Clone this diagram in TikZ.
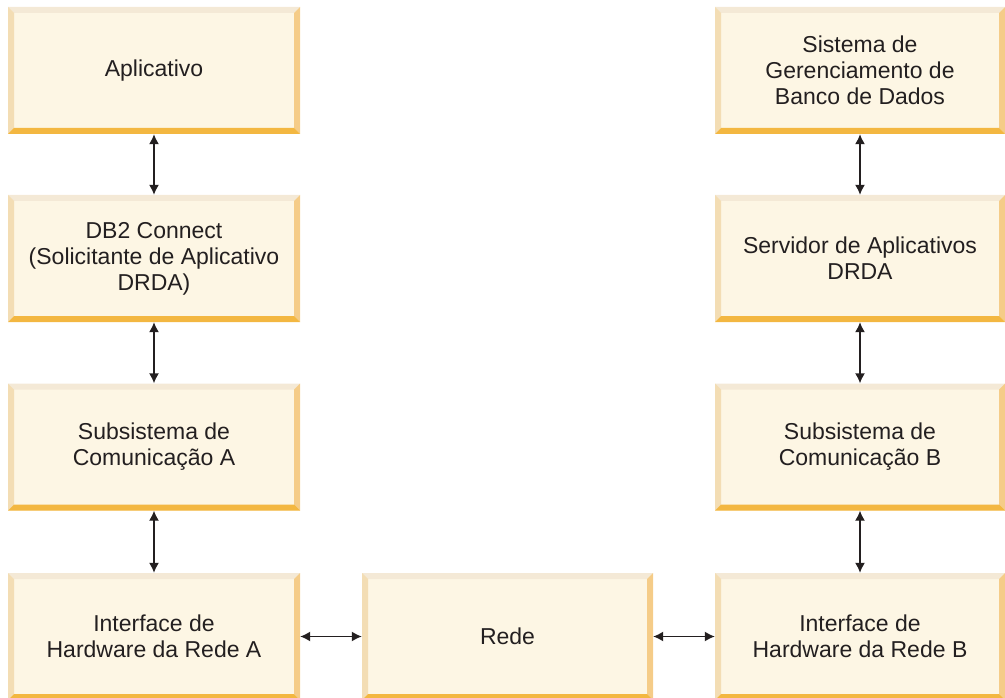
\documentclass[tikz,border=0pt]{standalone}
\usepackage{fontspec}
\setmainfont{Liberation Sans}
\usepackage{tikz}
\usetikzlibrary{arrows.meta}

\definecolor{caixa}{HTML}{FDF6E4}
\definecolor{topo}{HTML}{F4E9D6}
\definecolor{esq}{HTML}{F3DDB4}
\definecolor{dir}{HTML}{F5CC88}
\definecolor{base}{HTML}{F3B741}
\definecolor{texto}{HTML}{231F20}

\tikzset{
    camada/.style={rectangle, inner sep=0pt, minimum width=292pt, minimum height=127pt,
        fill=caixa, text=texto, align=center, font=\fontsize{23}{26}\selectfont,
        path picture={
            \coordinate (nw) at (path picture bounding box.north west);
            \coordinate (ne) at (path picture bounding box.north east);
            \coordinate (sw) at (path picture bounding box.south west);
            \coordinate (se) at (path picture bounding box.south east);
            \fill[topo] (nw) -- (ne) -- ([shift={(-6pt,-6pt)}]ne) -- ([shift={(6pt,-6pt)}]nw) -- cycle;
            \fill[esq] (nw) -- ([shift={(6pt,-6pt)}]nw) -- ([shift={(6pt,6pt)}]sw) -- (sw) -- cycle;
            \fill[dir] (ne) -- ([shift={(-6pt,-6pt)}]ne) -- ([shift={(-6pt,6pt)}]se) -- (se) -- cycle;
            \fill[base] (sw) -- ([shift={(6pt,6pt)}]sw) -- ([shift={(-6pt,6pt)}]se) -- (se) -- cycle;
        }},
    liga/.style={{Latex[length=10pt,width=10pt]}-{Latex[length=10pt,width=10pt]}, line width=1.4pt, draw=texto}
}

\begin{document}
\begin{tikzpicture}[x=1pt,y=-1pt]

    \useasboundingbox (0,0) rectangle (1005,698);

    % lado A
    \node[camada] (app) at (154,70.5) {Aplicativo};
    \node[camada] (db2) at (154,258.5) {DB2 Connect\\(Solicitante de Aplicativo\\DRDA)};
    \node[camada] (subA) at (154,447) {Subsistema de\\Comunica\c{c}\~ao A};
    \node[camada] (hwA) at (154,636.5) {Interface de\\Hardware da Rede A};

    % rede
    \node[camada, minimum width=291pt] (rede) at (507.5,636.5) {Rede};

    % lado B
    \node[camada, minimum width=290pt] (sgbd) at (860,70.5) {Sistema de\\Gerenciamento de\\Banco de Dados};
    \node[camada, minimum width=290pt] (srv) at (860,258.5) {Servidor de Aplicativos\\DRDA};
    \node[camada, minimum width=290pt] (subB) at (860,447) {Subsistema de\\Comunica\c{c}\~ao B};
    \node[camada, minimum width=290pt] (hwB) at (860,636.5) {Interface de\\Hardware da Rede B};

    \draw[liga] (app) -- (db2);
    \draw[liga] (db2) -- (subA);
    \draw[liga] (subA) -- (hwA);
    \draw[liga] (hwA) -- (rede);
    \draw[liga] (rede) -- (hwB);
    \draw[liga] (hwB) -- (subB);
    \draw[liga] (subB) -- (srv);
    \draw[liga] (srv) -- (sgbd);

\end{tikzpicture}
\end{document}
